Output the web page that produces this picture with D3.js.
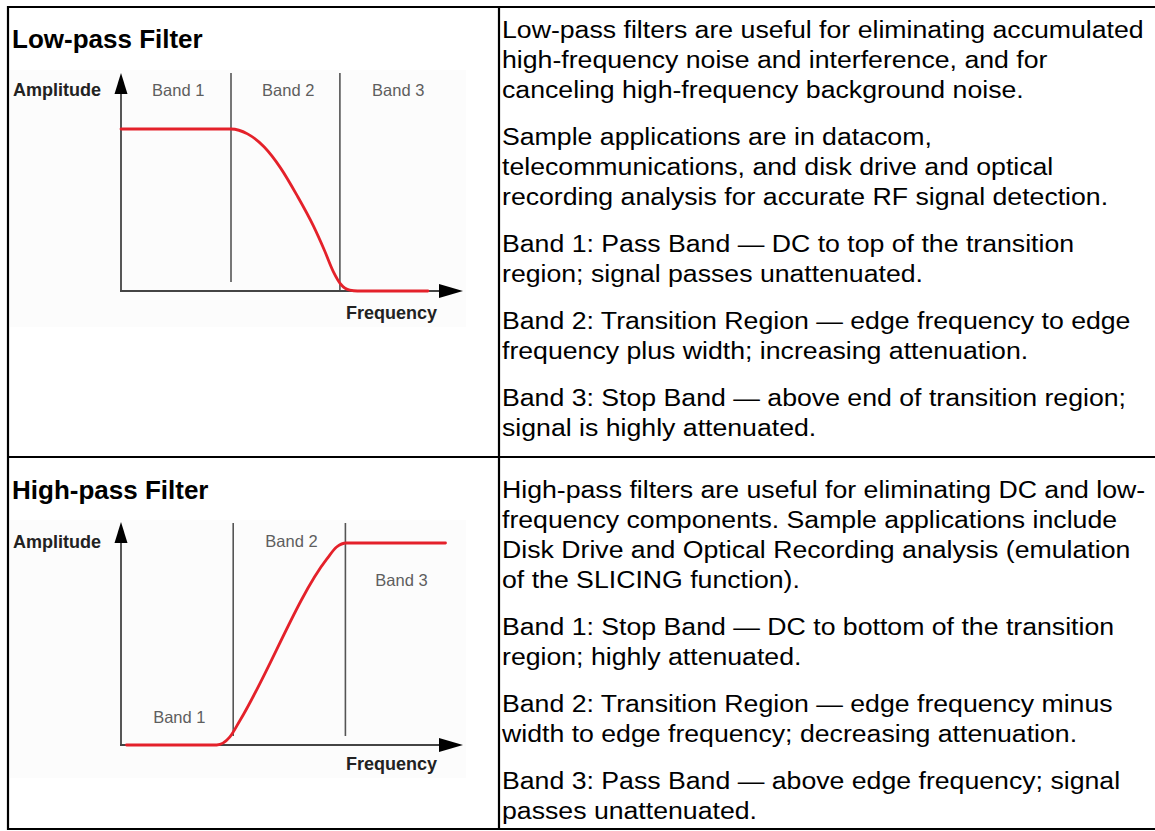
<!DOCTYPE html>
<html><head><meta charset="utf-8">
<script src="https://cdn.jsdelivr.net/npm/d3@7"></script>
<style>body{margin:0;background:#fff;overflow:hidden}</style>
</head><body><svg id="c" width="1155" height="831"></svg>
<script>
// ---------- data ----------
const titles = ["Low-pass Filter", "High-pass Filter"];
const bandLabels = ["Band 1", "Band 2", "Band 3"];
const axisLabels = ["Amplitude", "Frequency"];
// Low-pass response (frequency in band-width units, amplitude normalised)
const lowFreq = [0, 1.0, 1.15, 1.3, 1.45, 1.6, 1.75, 1.85, 1.93, 2.0, 2.08, 2.15, 2.79];
const lowAmp  = [1, 1, 0.97, 0.89, 0.76, 0.59, 0.40, 0.25, 0.12, 0.04, 0.005, 0, 0];
const lowEdges = [1.0, 1.99];
// High-pass response
const highFreq = [0.05, 0.87, 0.99, 1.08, 1.87, 1.96, 2.05, 2.95];
const highAmp  = [0, 0, 0.04, 0.12, 0.92, 0.98, 1, 1];
const highEdges = [1.02, 2.04];
// descriptions (one array per paragraph, lines as wrapped)
const lowText = [
  ["Low-pass filters are useful for eliminating accumulated",
   "high-frequency noise and interference, and for",
   "canceling high-frequency background noise."],
  ["Sample applications are in datacom,",
   "telecommunications, and disk drive and optical",
   "recording analysis for accurate RF signal detection."],
  ["Band 1: Pass Band \u2014 DC to top of the transition",
   "region; signal passes unattenuated."],
  ["Band 2: Transition Region \u2014 edge frequency to edge",
   "frequency plus width; increasing attenuation."],
  ["Band 3: Stop Band \u2014 above end of transition region;",
   "signal is highly attenuated."]
];
const highText = [
  ["High-pass filters are useful for eliminating DC and low-",
   "frequency components. Sample applications include",
   "Disk Drive and Optical Recording analysis (emulation",
   "of the SLICING function)."],
  ["Band 1: Stop Band \u2014 DC to bottom of the transition",
   "region; highly attenuated."],
  ["Band 2: Transition Region \u2014 edge frequency minus",
   "width to edge frequency; decreasing attenuation."],
  ["Band 3: Pass Band \u2014 above edge frequency; signal",
   "passes unattenuated."]
];

// ---------- drawing ----------
const svg = d3.select("#c");
svg.append("rect").attr("width", 1155).attr("height", 831).attr("fill", "#fff");
const FONT = "'Liberation Sans', Arial, Helvetica, sans-serif";

// table grid
const grid = svg.append("g").attr("stroke", "#000").attr("stroke-width", 2.2);
grid.append("line").attr("x1", 7).attr("x2", 1160).attr("y1", 7).attr("y2", 7);
grid.append("line").attr("x1", 8).attr("x2", 8).attr("y1", 6).attr("y2", 830);
grid.append("line").attr("x1", 7).attr("x2", 1160).attr("y1", 829).attr("y2", 829);
grid.append("line").attr("x1", 499).attr("x2", 499).attr("y1", 6).attr("y2", 830);
grid.append("line").attr("x1", 7).attr("x2", 1160).attr("y1", 457).attr("y2", 457);

// text column
function drawParas(paras, y0) {
  const L = 30, G = 17;
  let y = y0;
  const g = svg.append("g").attr("transform", "translate(502,0) scale(1.16,1)")
    .attr("font-family", FONT).attr("font-size", 23).attr("fill", "#000");
  paras.forEach(p => {
    p.forEach(line => {
      g.append("text").attr("x", 0).attr("y", y).text(line);
      y += L;
    });
    y += G;
  });
}
drawParas(lowText, 38);
drawParas(highText, 498);

// titles
svg.selectAll("text.title").data(titles).join("text").attr("class", "title")
  .attr("x", 12).attr("y", (d, i) => i === 0 ? 48 : 499)
  .attr("font-family", FONT).attr("font-weight", "bold").attr("font-size", 26)
  .attr("fill", "#000").text(d => d);

// diagrams
function diagram(cfg) {
  const g = svg.append("g");
  const x = d3.scaleLinear().domain([0, 1]).range([cfg.x0, cfg.x0 + 110]);
  const y = d3.scaleLinear().domain([0, 1]).range([cfg.yBase, cfg.yTop1]);
  g.append("rect").attr("x", 10).attr("y", cfg.bgTop).attr("width", 456)
    .attr("height", cfg.bgH).attr("fill", "#fcfcfc");
  // band dividers
  g.selectAll("line.edge").data(cfg.edges).join("line").attr("class", "edge")
    .attr("x1", d => x(d)).attr("x2", d => x(d))
    .attr("y1", cfg.divTop).attr("y2", (d, i) => cfg.divBot[i])
    .attr("stroke", "#555").attr("stroke-width", 1.6);
  // axes
  g.append("line").attr("x1", cfg.x0).attr("x2", cfg.x0)
    .attr("y1", cfg.axisTop + 10).attr("y2", cfg.yBase + 1)
    .attr("stroke", "#444").attr("stroke-width", 1.8);
  g.append("line").attr("x1", cfg.x0 - 1).attr("x2", cfg.xTip - 10)
    .attr("y1", cfg.yBase).attr("y2", cfg.yBase)
    .attr("stroke", "#444").attr("stroke-width", 1.8);
  g.append("path").attr("d", `M${cfg.x0},${cfg.axisTop} L${cfg.x0 + 6.5},${cfg.axisTop + 21} L${cfg.x0 - 6.5},${cfg.axisTop + 21} Z`).attr("fill", "#000");
  g.append("path").attr("d", `M${cfg.xTip},${cfg.yBase} L${cfg.xTip - 24},${cfg.yBase - 7} L${cfg.xTip - 24},${cfg.yBase + 7} Z`).attr("fill", "#000");
  // band labels
  g.selectAll("text.band").data(bandLabels).join("text").attr("class", "band")
    .attr("x", (d, i) => x(cfg.bandPos[i][0])).attr("y", (d, i) => cfg.bandPos[i][1])
    .attr("text-anchor", "middle").attr("font-family", FONT).attr("font-size", 16.5)
    .attr("fill", "#5e5e5e").text(d => d);
  // axis labels
  g.append("text").attr("x", 13).attr("y", cfg.ampY).attr("font-family", FONT)
    .attr("font-weight", "bold").attr("font-size", 18).attr("fill", "#222").text(axisLabels[0]);
  g.append("text").attr("x", 437).attr("y", cfg.freqY).attr("text-anchor", "end").attr("font-family", FONT)
    .attr("font-weight", "bold").attr("font-size", 18).attr("fill", "#222").text(axisLabels[1]);
  // response curve
  const pts = cfg.freq.map((f, i) => [f, cfg.amp[i]]);
  g.append("path").datum(pts)
    .attr("d", d3.line().x(d => x(d[0])).y(d => y(d[1])).curve(d3.curveMonotoneX))
    .attr("fill", "none").attr("stroke", "#e4212a").attr("stroke-width", 2.8)
    .attr("stroke-linecap", "round");
}
diagram({x0: 121, yBase: 291, yTop1: 129, axisTop: 73, xTip: 463, bgTop: 70, bgH: 257,
  edges: lowEdges, divTop: 73, divBot: [282, 290],
  bandPos: [[0.52, 96], [1.52, 96], [2.52, 96]], ampY: 96, freqY: 319,
  freq: lowFreq, amp: lowAmp});
diagram({x0: 121, yBase: 745, yTop1: 543, axisTop: 522, xTip: 463, bgTop: 520, bgH: 258,
  edges: highEdges, divTop: 523, divBot: [736, 736],
  bandPos: [[0.53, 723], [1.55, 547], [2.55, 586]], ampY: 548, freqY: 770,
  freq: highFreq, amp: highAmp});
</script>
</body></html>
